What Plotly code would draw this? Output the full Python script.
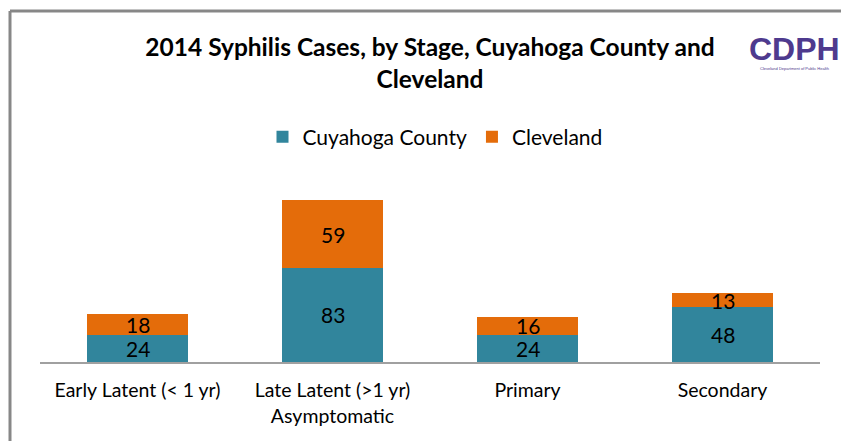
import plotly.graph_objects as go

categories = ["Early Latent (< 1 yr)", "Late Latent (>1 yr)<br>Asymptomatic", "Primary", "Secondary"]
cuyahoga = [24, 83, 24, 48]
cleveland = [18, 59, 16, 13]

TEAL = "#31859C"
ORANGE = "#E46C0A"
FONT = "Lato"
W, H = 841, 441

# reference plot area: x 40..820, y baseline 362, top 180
def px(x):
    return (x - 40) / 780

def py(y):
    return (362 - y) / 182

fig = go.Figure()
fig.add_trace(go.Bar(x=categories, y=cuyahoga, name="Cuyahoga County", marker_color=TEAL,
                     marker_line_width=0))
fig.add_trace(go.Bar(x=categories, y=cleveland, name="Cleveland", marker_color=ORANGE,
                     marker_line_width=0))

annotations = []
for c, a, b in zip(categories, cuyahoga, cleveland):
    annotations.append(dict(x=c, y=a / 2, text=str(a), showarrow=False,
                            font=dict(family=FONT, size=21, color="black"), yanchor="middle"))
    annotations.append(dict(x=c, y=a + b / 2, text=str(b), showarrow=False,
                            font=dict(family=FONT, size=21, color="black"), yanchor="middle"))

# logo text
annotations.append(dict(xref="paper", yref="paper", x=px(794), y=py(49),
                        text="<b>CDPH</b>", showarrow=False, xanchor="center", yanchor="middle",
                        font=dict(family="Liberation Sans", size=32, color="#4E3A8E")))
annotations.append(dict(xref="paper", yref="paper", x=px(794), y=py(69),
                        text="Cleveland Department of Public Health", showarrow=False,
                        xanchor="center", yanchor="middle",
                        font=dict(family="Liberation Sans", size=4, color="#4E3A8E")))

fig.update_layout(
    width=W, height=H,
    barmode="stack",
    bargap=0.487,
    paper_bgcolor="white", plot_bgcolor="white",
    margin=dict(l=40, r=841 - 820, t=180, b=441 - 362),
    title=dict(text="<b>2014 Syphilis Cases, by Stage, Cuyahoga County and<br>Cleveland</b>",
               x=px(430), xref="paper", xanchor="center",
               y=(H - 56) / H, yanchor="top",
               font=dict(family=FONT, size=24.5, color="black")),
    legend=dict(orientation="h", x=px(435), xanchor="center",
                y=py(137), yanchor="middle",
                font=dict(family=FONT, size=21, color="black"),
                itemwidth=30, traceorder="normal"),
    xaxis=dict(showline=True, linecolor="#A0A0A0", linewidth=2, ticks="outside",
               ticklen=10, tickcolor="rgba(0,0,0,0)", showgrid=False,
               tickfont=dict(family=FONT, size=19.5, color="black"), fixedrange=True),
    yaxis=dict(range=[0, 160], visible=False, showgrid=False, fixedrange=True),
    annotations=annotations,
    shapes=[
        dict(type="line", xref="paper", yref="paper",
             x0=px(10), x1=px(10), y0=py(445), y1=py(11),
             line=dict(color="#878787", width=3)),
        dict(type="line", xref="paper", yref="paper",
             x0=px(10), x1=px(845), y0=py(11), y1=py(11),
             line=dict(color="#878787", width=3)),
    ],
)

fig.write_html("out.html", config={"displayModeBar": False},
               post_script="document.body.style.margin='0';document.body.style.overflow='hidden';")
